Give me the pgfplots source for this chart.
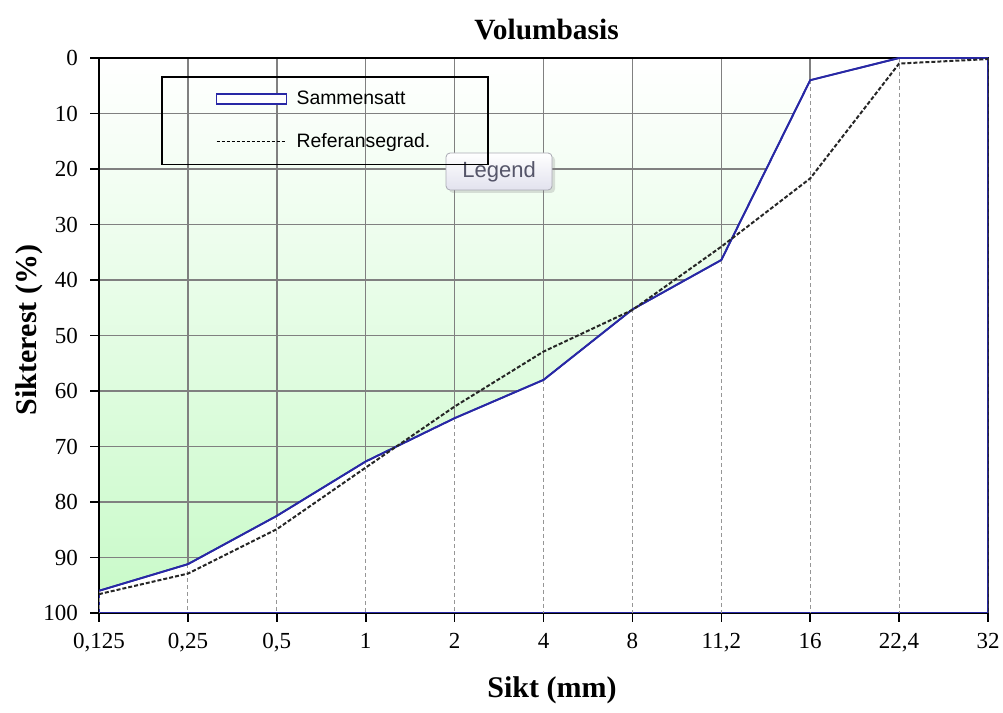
\documentclass[border=0pt]{standalone}
\usepackage{fontspec}
\setmainfont{Liberation Serif}
\newfontfamily\sansfont{Liberation Sans}
\usepackage{pgfplots}
\pgfplotsset{compat=1.18}
\usetikzlibrary{shadows}

\definecolor{kurveblue}{RGB}{40,40,165}
\definecolor{fillgreen}{RGB}{202,250,202}
\definecolor{gridgray}{RGB}{128,128,128}
\definecolor{dropgray}{RGB}{150,150,150}
\definecolor{tipborder}{RGB}{170,170,180}
\definecolor{tipbottom}{RGB}{226,226,238}
\definecolor{tiptext}{RGB}{85,85,105}

\begin{document}
\begin{tikzpicture}
\begin{axis}[
  set layers,
  at={(49.5pt,50pt)}, anchor=south west,
  width=444.5pt, height=277.5pt, scale only axis,
  xmin=0, xmax=10, ymin=0, ymax=100,
  y dir=reverse,
  xtick={0,...,10},
  xticklabels={{0,125},{0,25},{0,5},1,2,4,8,{11,2},16,{22,4},32},
  ytick={0,10,...,100},
  xtick pos=bottom, ytick pos=left,
  tick align=outside,
  major tick length=4.5pt,
  tick style={black, line width=0.8pt},
  grid=major,
  major grid style={gridgray, line width=0.75pt},
  axis line style={black, line width=1pt},
  /pgf/number format/assume math mode=true,
  ticklabel style={font=\fontsize{11.5}{12}\selectfont},
  xticklabel style={yshift=-2pt},
  yticklabel style={xshift=-2.5pt},
  every axis title shift=0pt,
  title={Volumbasis},
  title style={font=\bfseries\fontsize{14.7}{16}\selectfont, at={(0.5034,1.0342)}, anchor=base},
  xlabel={Sikt (mm)},
  xlabel style={font=\bfseries\fontsize{15}{16}\selectfont, at={(0.5096,-0.153)}, anchor=base},
  ylabel={Sikterest (\%)},
  ylabel style={font=\bfseries\fontsize{15}{16}\selectfont, at={(-0.0787,0.51)}, anchor=center},
  legend style={at={(0.0697,0.9676)}, anchor=north west, draw=black, line width=0.8pt,
    fill=none, inner xsep=27pt, inner ysep=5pt, row sep=9pt,
    font=\sansfont\fontsize{9.7}{11}\selectfont},
  legend cell align=left,
  unbounded coords=jump,
]

% gradient fill between the curve and 0
\addplot[forget plot, on layer=axis background, draw=none, top color=white, bottom color=fillgreen]
  coordinates {(0,96) (1,91.2) (2,82.5) (3,72.7) (4,64.9) (5,58.0) (6,45.3) (7,36.4) (8,4) (9,0) (10,0)}
  \closedcycle;

% Sammensatt: white area below the curve
\addplot[kurveblue, line width=0.9pt, fill=white,
  legend image code/.code={\draw[kurveblue, line width=0.8pt, fill=white] (0pt,-2.5pt) rectangle (35pt,2.5pt);
    \path (37.5pt,0pt);}]
  coordinates {(0,96) (1,91.2) (2,82.5) (3,72.7) (4,64.9) (5,58.0) (6,45.3) (7,36.4) (8,4) (9,0) (10,0) (10,100) (0,100)}
  -- cycle;
\addlegendentry{Sammensatt}

% drop lines
\addplot[forget plot, dropgray, line width=0.5pt, dash pattern=on 2pt off 1.5pt]
  coordinates {(0,96) (0,100) (0,nan) (1,91.2) (1,100) (1,nan) (2,82.5) (2,100) (2,nan)
    (3,72.7) (3,100) (3,nan) (4,64.9) (4,100) (4,nan) (5,58.0) (5,100) (5,nan)
    (6,45.3) (6,100) (6,nan) (7,36.4) (7,100) (7,nan) (8,4) (8,100) (8,nan)
    (9,0) (9,100) (9,nan) (10,0) (10,100)};

% curve again on top of drop lines
\addplot[forget plot, kurveblue, line width=0.9pt]
  coordinates {(0,96) (1,91.2) (2,82.5) (3,72.7) (4,64.9) (5,58.0) (6,45.3) (7,36.4) (8,4) (9,0) (10,0)};

% Referansegrad.
\addplot[black!85, line width=1pt, dash pattern=on 2pt off 1pt,
  legend image code/.code={\draw[black, line width=0.6pt, dash pattern=on 1.5pt off 1pt] (0pt,0pt) -- (35pt,0pt);
    \path (37.5pt,0pt);}]
  coordinates {(0,96.6) (1,92.9) (2,84.9) (3,73.8) (4,62.8) (5,52.9) (6,45.4) (7,34.0) (8,21.7) (9,1.0) (10,0.2)};
\addlegendentry{Referansegrad.}

\node[draw=tipborder, rounded corners=2pt, top color=white, bottom color=tipbottom,
  drop shadow={opacity=0.25, shadow xshift=1.5pt, shadow yshift=-1.5pt},
  minimum width=53pt, minimum height=18.5pt, inner sep=0pt,
  font=\sansfont\fontsize{11}{12}\selectfont, text=tiptext]
  at (axis cs:4.5,20.45) {Legend};
\end{axis}
\pgfresetboundingbox
\useasboundingbox (0,0) rectangle (501.5pt,356.5pt);
\end{tikzpicture}
\end{document}
